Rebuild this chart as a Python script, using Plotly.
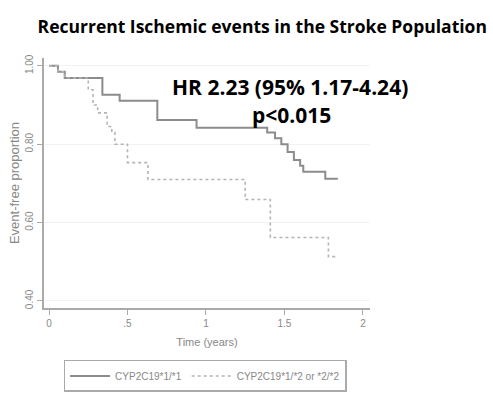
import plotly.graph_objects as go

# Kaplan-Meier step data (time in years, event-free proportion)
t_wt = [0, 0.057, 0.10, 0.34, 0.45, 0.69, 0.94, 1.36, 1.39, 1.44, 1.48, 1.52, 1.56, 1.60, 1.62, 1.76, 1.84]
s_wt = [1.0, 0.985, 0.969, 0.926, 0.911, 0.862, 0.842, 0.842, 0.83, 0.815, 0.80, 0.78, 0.76, 0.745, 0.73, 0.712, 0.712]

t_lof = [0, 0.057, 0.10, 0.25, 0.28, 0.31, 0.37, 0.40, 0.42, 0.50, 0.63, 1.25, 1.41, 1.78, 1.84]
s_lof = [1.0, 0.985, 0.969, 0.939, 0.90, 0.88, 0.845, 0.83, 0.80, 0.753, 0.71, 0.659, 0.562, 0.513, 0.513]

x_tickvals = [0, 0.5, 1, 1.5, 2]
x_ticktext = ["0", ".5", "1", "1.5", "2"]
y_tickvals = [0.4, 0.6, 0.8, 1.0]
y_ticktext = ["0.40", "0.60", "0.80", "1.00"]

names = ["CYP2C19*1/*1", "CYP2C19*1/*2 or *2/*2"]

fig = go.Figure()
fig.add_trace(go.Scatter(x=t_wt, y=s_wt, mode="lines", line_shape="hv", name=names[0],
                         line=dict(color="#8c8c8c", width=2)))
fig.add_trace(go.Scatter(x=t_lof, y=s_lof, mode="lines", line_shape="hv", name=names[1],
                         line=dict(color="#b4b4b4", width=1.6, dash="dot")))

axis_font = dict(family="Liberation Sans, Arial", size=10, color="#888")
title_font = dict(family="Liberation Sans, Arial", size=11, color="#888")

fig.update_layout(
    width=493, height=398,
    margin=dict(l=44, r=123, t=58, b=90),
    paper_bgcolor="white", plot_bgcolor="white",
    title=dict(text="<b>Recurrent Ischemic events in the Stroke Population</b>",
               x=0.532, xanchor="center", y=0.932, yanchor="middle",
               font=dict(family="Open Sans, sans-serif", size=17.5, color="black")),
    xaxis=dict(range=[-0.032, 2.045], tickvals=x_tickvals, ticktext=x_ticktext, automargin=False,
               showline=True, linecolor="#aaa", linewidth=2, ticks="outside", tickcolor="#aaa",
               ticklen=5, showgrid=False, zeroline=False, tickfont=axis_font,
               title=dict(text="Time (years)", font=title_font, standoff=10)),
    yaxis=dict(range=[0.382, 1.02], tickvals=y_tickvals, ticktext=y_ticktext, tickangle=-90,
               automargin=False,
               showline=True, linecolor="#aaa", linewidth=2, ticks="outside", tickcolor="#aaa",
               ticklen=5, showgrid=True, gridcolor="#f2f2f2", zeroline=False, tickfont=axis_font,
               title=dict(text="Event-free proportion", font=dict(family="Liberation Sans, Arial", size=13, color="#888"),
                          standoff=1)),
    legend=dict(orientation="h", x=0.416, xanchor="center", xref="container",
                y=0.0955, yanchor="top", yref="container",
                bordercolor="#aaa", borderwidth=1.5,
                font=dict(family="Liberation Sans, Arial", size=10, color="#888"),
                itemwidth=40),
    showlegend=True,
)

fig.add_annotation(text="<b>HR 2.23 (95% 1.17-4.24)</b>", xref="paper", yref="paper",
                   x=0.755, y=0.884, xanchor="center", yanchor="middle", showarrow=False,
                   font=dict(family="Open Sans, sans-serif", size=21, color="black"))
fig.add_annotation(text="<b>p<0.015</b>", xref="paper", yref="paper",
                   x=0.758, y=0.772, xanchor="center", yanchor="middle", showarrow=False,
                   font=dict(family="Open Sans, sans-serif", size=21, color="black"))

fig.write_html("out.html", config={"displayModeBar": False},
               post_script="document.body.style.margin='0';")
